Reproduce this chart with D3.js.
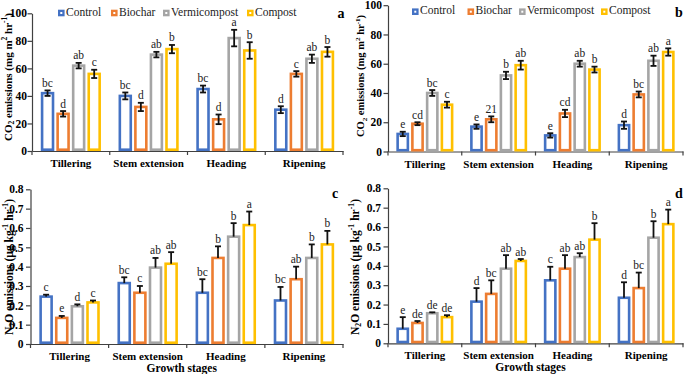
<!DOCTYPE html>
<html><head><meta charset="utf-8">
<script src="https://cdn.jsdelivr.net/npm/d3@7/dist/d3.min.js"></script>
<style>
body{margin:0;background:#fff}
svg{display:block}
text{font-family:"Liberation Serif","Times New Roman",serif}
</style>
</head><body>
<svg id="chart" width="685" height="374"></svg>
<script>
// ---------- DATA ----------
const categories = ["Tillering", "Stem extension", "Heading", "Ripening"];
const seriesNames = ["Control", "Biochar", "Vermicompost", "Compost"];
const seriesColors = ["#4472C4", "#ED7D31", "#A5A5A5", "#FFC000"];

// Panel a: CO2 (rows = series, cols = categories)
const aValues = [[42, 40, 45, 30], [27, 32, 23, 56], [62, 70, 82, 67], [56, 74, 73, 72]];
const aErrors = [[2, 2.5, 2.5, 2.5], [2, 3, 3.5, 2], [2, 2, 6, 3], [3, 3, 6, 3.5]];
const aLetters = [["bc", "bc", "bc", "d"], ["d", "d", "d", "c"], ["ab", "ab", "a", "ab"], ["c", "b", "b", "b"]];

// Panel b: CO2
const bValues = [[12, 17, 11, 18], [19, 22, 26, 39], [40, 52, 60, 62], [32, 59, 56, 68]];
const bErrors = [[1.5, 1.5, 1.5, 2.5], [1, 2, 2.5, 2], [2, 2.5, 2, 3.5], [2, 3, 2, 2.5]];
const bLetters = [["e", "e", "e", "d"], ["cd", "21", "cd", "bc"], ["bc", "b", "ab", "ab"], ["c", "ab", "b", "a"]];

// Panel c: N2O
const cValues = [[0.245, 0.315, 0.265, 0.225], [0.135, 0.265, 0.445, 0.335], [0.195, 0.395, 0.555, 0.445], [0.215, 0.415, 0.615, 0.515]];
const cErrors = [[0.01, 0.03, 0.07, 0.07], [0.01, 0.035, 0.06, 0.065], [0.01, 0.05, 0.07, 0.07], [0.01, 0.06, 0.07, 0.07]];
const cLetters = [["c", "bc", "bc", "bc"], ["e", "c", "b", "ab"], ["d", "ab", "b", "b"], ["c", "ab", "a", "b"]];

// Panel d: N2O
const dValues = [[0.075, 0.215, 0.325, 0.235], [0.105, 0.255, 0.385, 0.285], [0.155, 0.385, 0.445, 0.545], [0.135, 0.425, 0.535, 0.615]];
const dErrors = [[0.06, 0.07, 0.07, 0.08], [0.01, 0.07, 0.07, 0.08], [0.005, 0.07, 0.02, 0.085], [0.01, 0.01, 0.085, 0.075]];
const dLetters = [["e", "d", "c", "d"], ["de", "bc", "ab", "bc"], ["de", "ab", "ab", "b"], ["de", "ab", "b", "a"]];

const co2Ticks = [0, 20, 40, 60, 80, 100];
const n2oTicks = [0, 0.1, 0.2, 0.3, 0.4, 0.5, 0.6, 0.7, 0.8];
const xTitle = "Growth stages";

// ---------- LAYOUT ----------
const svg = d3.select("#chart");

const panels = [
  {id: "a", values: aValues, errors: aErrors, letters: aLetters, ticks: co2Ticks, max: 100, both: true,
   left: 32, right: 343, top: 13.3, bottom: 151, titleX: 9, titleY: 77, titleSize: 11, gas: "co2", tickGap: 5,
   legendY: 13, legendX: [58, 111, 163, 247], tagX: 341, tagY: 18, xTitle: false},
  {id: "b", values: bValues, errors: bErrors, letters: bLetters, ticks: co2Ticks, max: 100, both: true,
   left: 388, right: 683, top: 5.2, bottom: 151.5, titleX: 362, titleY: 76, titleSize: 10.5, gas: "co2", tickGap: 6,
   legendY: 11.7, legendX: [412, 467.5, 519, 601], tagX: 679, tagY: 17, xTitle: false},
  {id: "c", values: cValues, errors: cErrors, letters: cLetters, ticks: n2oTicks, max: 0.8, both: false,
   left: 30.5, right: 343, top: 189.3, bottom: 344, titleX: 10, titleY: 267, titleSize: 11.5, gas: "n2o", tickGap: 7,
   legendY: null, tagX: 335, tagY: 198, xTitle: true},
  {id: "d", values: dValues, errors: dErrors, letters: dLetters, ticks: n2oTicks, max: 0.8, both: false,
   left: 388, right: 683, top: 188.3, bottom: 343.3, titleX: 356, titleY: 267, titleSize: 11.5, gas: "n2o", tickGap: 7,
   legendY: null, tagX: 679, tagY: 198, xTitle: true}
];

panels.forEach(drawPanel);

function drawPanel(p) {
  const g = svg.append("g");
  const x0 = d3.scaleBand().domain(categories).range([p.left, p.right]).padding(0);
  const bw = x0.bandwidth();
  const x1 = d3.scaleBand().domain(seriesNames).range([0, bw]).paddingInner(0.13).paddingOuter(0.565);
  const y = d3.scaleLinear().domain([0, p.max]).range([p.bottom, p.top]);
  const sw = 2.6;

  // y axis
  const yAxis = d3.axisLeft(y).tickValues(p.ticks).tickSize(4.5).tickSizeOuter(0)
    .tickFormat(d => p.max > 1 ? d3.format("d")(d) : (d === 0 ? "0" : d3.format(".1f")(d)));
  const ya = g.append("g").attr("transform", `translate(${p.left},0)`).call(yAxis);
  ya.select(".domain").attr("stroke", "#404040").attr("stroke-width", 1.2);
  ya.selectAll(".tick line").attr("stroke", "#404040").attr("stroke-width", 1.2);
  ya.selectAll(".tick text").attr("font-family", "Liberation Serif").attr("font-weight", "bold")
    .attr("font-size", 11.5).attr("fill", "#000").attr("x", -p.tickGap);

  // x axis
  const xa = d3.axisBottom(x0).tickSize(0).tickSizeOuter(0);
  const xg = g.append("g").attr("transform", `translate(0,${p.bottom})`).call(xa);
  xg.select(".domain").attr("stroke", "#404040").attr("stroke-width", 1.2);
  xg.selectAll(".tick text").attr("font-family", "Liberation Serif").attr("font-weight", "bold")
    .attr("font-size", 11).attr("fill", "#000").attr("dy", 0).attr("y", 16);
  // boundary ticks
  const bounds = categories.map(c => x0(c)).concat([x0(categories[categories.length - 1]) + bw]);
  g.selectAll("line.bt").data(bounds).enter().append("line")
    .attr("x1", d => d).attr("x2", d => d).attr("y1", p.bottom).attr("y2", p.bottom + 4)
    .attr("stroke", "#404040").attr("stroke-width", 1.2);

  // bars
  seriesNames.forEach((s, si) => {
    const sg = g.append("g");
    const rows = categories.map((c, ci) => ({c, v: p.values[si][ci], e: p.errors[si][ci], l: p.letters[si][ci]}));
    sg.selectAll("rect").data(rows).enter().append("rect")
      .attr("x", d => x0(d.c) + x1(s) + sw / 2)
      .attr("width", x1.bandwidth() - sw)
      .attr("y", d => y(d.v))
      .attr("height", d => y(0) - y(d.v) - sw / 2)
      .attr("fill", "#fff").attr("stroke", seriesColors[si]).attr("stroke-width", sw);
    const cx = d => x0(d.c) + x1(s) + x1.bandwidth() / 2;
    // error bars
    sg.selectAll("line.ev").data(rows).enter().append("line")
      .attr("x1", cx).attr("x2", cx)
      .attr("y1", d => p.both ? y(d.v - d.e) : y(d.v))
      .attr("y2", d => y(d.v + d.e))
      .attr("stroke", "#111").attr("stroke-width", 1.8);
    sg.selectAll("line.ct").data(rows).enter().append("line")
      .attr("x1", d => cx(d) - 3).attr("x2", d => cx(d) + 3)
      .attr("y1", d => y(d.v + d.e)).attr("y2", d => y(d.v + d.e))
      .attr("stroke", "#111").attr("stroke-width", 1.8);
    if (p.both) {
      sg.selectAll("line.cb").data(rows).enter().append("line")
        .attr("x1", d => cx(d) - 3).attr("x2", d => cx(d) + 3)
        .attr("y1", d => y(d.v - d.e)).attr("y2", d => y(d.v - d.e))
        .attr("stroke", "#111").attr("stroke-width", 1.8);
    }
    // letters
    sg.selectAll("text").data(rows).enter().append("text")
      .attr("x", cx).attr("y", d => y(d.v + d.e) - 3.5)
      .attr("text-anchor", "middle").attr("font-size", 11.5).attr("fill", "#222")
      .text(d => d.l);
  });

  // y title
  const t = g.append("text").attr("transform", `translate(${p.titleX},${p.titleY}) rotate(-90)`)
    .attr("text-anchor", "middle").attr("font-weight", "bold").attr("font-size", p.titleSize)
    .attr("dominant-baseline", "middle").attr("fill", "#000");
  const sub = p.titleSize * 0.68;
  if (p.gas === "co2") {
    t.append("tspan").text("CO");
    t.append("tspan").attr("font-size", sub).attr("dy", 3).text("2");
    t.append("tspan").attr("dy", -3).text(" emissions (mg m");
    t.append("tspan").attr("font-size", sub).attr("dy", -4).text("2");
    t.append("tspan").attr("dy", 4).text(" hr");
    t.append("tspan").attr("font-size", sub).attr("dy", -4).text("-1");
    t.append("tspan").attr("dy", 4).text(")");
  } else {
    t.append("tspan").text("N");
    t.append("tspan").attr("font-size", sub).attr("dy", 3).text("2");
    t.append("tspan").attr("dy", -3).text("O emissions (µg kg");
    t.append("tspan").attr("font-size", sub).attr("dy", -4).text("-1");
    t.append("tspan").attr("dy", 4).text(" hr");
    t.append("tspan").attr("font-size", sub).attr("dy", -4).text("-1");
    t.append("tspan").attr("dy", 4).text(")");
  }

  // x title
  if (p.xTitle) {
    g.append("text").attr("x", (p.left + p.right) / 2 - 5).attr("y", p.bottom + 28)
      .attr("text-anchor", "middle").attr("font-weight", "bold").attr("font-size", 11.5)
      .attr("fill", "#000").text(xTitle);
  }

  // legend
  if (p.legendY !== null) {
    seriesNames.forEach((s, si) => {
      const lx = p.legendX[si];
      g.append("rect").attr("x", lx).attr("y", p.legendY - 3.3).attr("width", 6.6).attr("height", 6.6)
        .attr("fill", seriesColors[si]);
      g.append("rect").attr("x", lx + 2.3).attr("y", p.legendY - 1).attr("width", 2).attr("height", 2)
        .attr("fill", "#fff");
      g.append("text").attr("x", lx + 8).attr("y", p.legendY).attr("dominant-baseline", "middle")
        .attr("font-size", 11.5).attr("fill", "#222").text(s);
    });
  }

  // panel tag
  g.append("text").attr("x", p.tagX).attr("y", p.tagY).attr("text-anchor", "middle")
    .attr("font-weight", "bold").attr("font-size", 14).attr("fill", "#000").text(p.id);
}
</script>
</body></html>
